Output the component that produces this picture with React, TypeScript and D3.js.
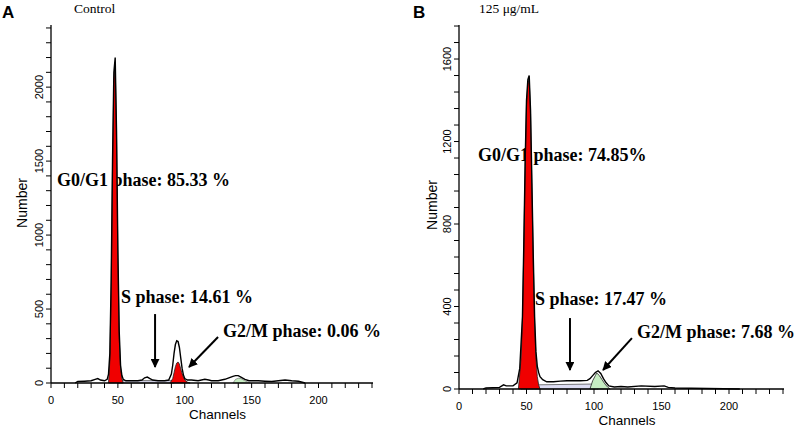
import React from "react";
import * as d3 from "d3";

// ---------- Panel A (Control) ----------
const A_RAW_CH = [18, 20, 25, 30, 33, 35, 37, 40, 42, 43, 44, 45, 46, 47, 48, 49, 50, 51, 52, 53, 54, 56, 60, 65, 68, 70, 72, 74, 76, 80, 85, 88, 90, 91, 92, 93, 94, 95, 96, 97, 98, 99, 100, 102, 105, 110, 115, 118, 120, 125, 130, 133, 136, 138, 140, 142, 145, 148, 150, 155, 160, 165, 170, 175, 180, 185, 190];
const A_RAW_N = [0, 10, 12, 15, 25, 30, 20, 15, 25, 60, 200, 700, 1500, 2100, 2200, 1700, 900, 350, 120, 50, 25, 15, 15, 15, 20, 35, 40, 30, 20, 15, 15, 20, 60, 120, 200, 260, 285, 280, 240, 170, 100, 55, 30, 20, 20, 15, 25, 20, 15, 15, 25, 35, 45, 50, 50, 40, 25, 15, 15, 15, 12, 10, 15, 20, 15, 12, 0];
const A_G1_CH = [43, 44, 45, 46, 47, 48, 49, 50, 51, 52, 53, 54];
const A_G1_N = [0, 150, 650, 1450, 2050, 2150, 1650, 850, 300, 100, 30, 0];
const A_S_CH = [50, 50, 92, 92];
const A_S_N = [0, 16, 16, 0];
const A_G2_CH = [89, 91, 92, 93, 94, 95, 96, 97, 98, 99, 100, 102, 104];
const A_G2_N = [0, 30, 70, 110, 135, 142, 128, 95, 65, 40, 20, 6, 0];
const A_AGG_CH = [136, 138, 140, 142, 145, 149];
const A_AGG_N = [0, 25, 32, 30, 15, 0];
const A_YLABELS = [0, 500, 1000, 1500, 2000];
const A_XLABELS = [0, 50, 100, 150, 200];

// ---------- Panel B (125 µg/mL) ----------
const B_RAW_CH = [18, 20, 30, 33, 35, 40, 43, 45, 47, 48, 49, 50, 51, 52, 53, 54, 55, 56, 57, 58, 59, 60, 62, 65, 70, 75, 80, 85, 90, 95, 97, 99, 101, 103, 105, 107, 109, 111, 115, 120, 125, 135, 145, 152, 155, 160, 208];
const B_RAW_N = [0, 5, 8, 20, 15, 15, 30, 100, 350, 700, 1100, 1400, 1500, 1520, 1350, 1000, 650, 350, 180, 110, 80, 60, 45, 35, 35, 38, 40, 40, 40, 42, 50, 65, 80, 88, 75, 50, 30, 15, 10, 12, 10, 15, 12, 15, 8, 5, 0];
const B_G1_CH = [44, 46, 47, 48, 49, 50, 51, 52, 53, 54, 55, 56, 57, 58, 59, 60];
const B_G1_N = [0, 150, 330, 680, 1080, 1380, 1480, 1500, 1330, 980, 620, 320, 150, 60, 20, 0];
const B_S_CH = [46, 55, 98, 103];
const B_S_N = [0, 20, 24, 0];
const B_G2_CH = [97, 99, 101, 102, 104, 106, 108, 110, 112];
const B_G2_N = [0, 40, 65, 78, 65, 45, 25, 10, 0];
const B_YLABELS = [0, 400, 800, 1200, 1600];
const B_XLABELS = [0, 50, 100, 150, 200];

const SANS = "'Liberation Sans', Arial, sans-serif";
const SERIF = "'Liberation Serif', 'Times New Roman', serif";

type Ann = { text: string; ch: number; n: number };
type Arrow = { ch1: number; n1: number; ch2: number; n2: number };

function Panel(props: {
  id: string;
  letter: string;
  title: string;
  letterX: number;
  titleX: number;
  x0: number;
  x1: number;
  y0: number;
  yTop: number;
  yMax: number;
  yLabels: number[];
  yMinorStep: number;
  xLabels: number[];
  raw: [number[], number[]];
  g1: [number[], number[]];
  s: [number[], number[]];
  g2: [number[], number[]];
  g2Color: string;
  agg?: [number[], number[]];
  anns: Ann[];
  arrows: Arrow[];
  yLabelX: number;
  yTitleX: number;
  yTitleY: number;
}) {
  const p = props;
  const x = d3.scaleLinear().domain([0, 240]).range([p.x0, p.x1]);
  const y = d3.scaleLinear().domain([0, p.yMax]).range([p.y0, p.yTop]);
  const line = d3
    .line<[number, number]>()
    .x((d) => x(d[0]))
    .y((d) => y(d[1]));
  const area = d3
    .area<[number, number]>()
    .x((d) => x(d[0]))
    .y0(y(0))
    .y1((d) => y(d[1]));
  const zip = (a: [number[], number[]]) =>
    a[0].map((c, i) => [c, a[1][i]] as [number, number]);

  const minorY = d3.range(0, p.yMax + 1, p.yMinorStep);
  const minorX = d3.range(0, 241, 10);
  const tickLen = 5;

  return (
    <g>
      <defs>
        <marker
          id={`arr-${p.id}`}
          viewBox="0 0 10 10"
          refX="9"
          refY="5"
          markerWidth="9"
          markerHeight="9"
          markerUnits="userSpaceOnUse"
          orient="auto"
        >
          <path d="M0,0 L10,5 L0,10 z" fill="#000" />
        </marker>
      </defs>
      <text x={p.letterX} y={18} fontFamily={SANS} fontWeight="bold" fontSize={17}>
        {p.letter}
      </text>
      <text x={p.titleX} y={13} fontFamily={SERIF} fontSize={13.5}>
        {p.title}
      </text>

      {/* annotations (drawn under the peaks) */}
      {p.anns.map((a) => (
        <text
          key={a.text}
          x={x(a.ch)}
          y={y(a.n)}
          dominantBaseline="central"
          fontFamily={SERIF}
          fontWeight="bold"
          fontSize={18}
        >
          {a.text}
        </text>
      ))}

      {/* fills */}
      <path d={area(zip(p.s)) || ""} fill="#dcdcf2" stroke="#555" strokeWidth={0.8} />
      {p.agg && <path d={area(zip(p.agg)) || ""} fill="#c6ecc2" stroke="#666" strokeWidth={0.6} />}
      <path d={area(zip(p.g1)) || ""} fill="#f00000" stroke="#222" strokeWidth={0.8} />
      <path d={area(zip(p.g2)) || ""} fill={p.g2Color} stroke="#222" strokeWidth={0.8} />
      <path d={line(zip(p.raw)) || ""} fill="none" stroke="#000" strokeWidth={1.4} />

      {/* axes */}
      <line x1={p.x0} x2={p.x0} y1={p.yTop} y2={p.y0} stroke="#000" strokeWidth={1.3} />
      <line x1={p.x0} x2={p.x1 + 1} y1={p.y0} y2={p.y0} stroke="#000" strokeWidth={1.3} />
      {minorY.map((v) => (
        <line key={"ym" + v} x1={p.x0 - tickLen} x2={p.x0} y1={y(v)} y2={y(v)} stroke="#000" strokeWidth={1} />
      ))}
      {p.yLabels.map((v) => (
        <text
          key={"yl" + v}
          transform={`translate(${p.yLabelX},${y(v)}) rotate(-90)`}
          textAnchor="middle"
          dominantBaseline="central"
          fontFamily={SANS}
          fontSize={11}
        >
          {v}
        </text>
      ))}
      {minorX.map((v) => (
        <line key={"xm" + v} x1={x(v)} x2={x(v)} y1={p.y0} y2={p.y0 + tickLen} stroke="#000" strokeWidth={1} />
      ))}
      {p.xLabels.map((v) => (
        <text
          key={"xl" + v}
          x={x(v)}
          y={p.y0 + 17}
          textAnchor="middle"
          dominantBaseline="central"
          fontFamily={SANS}
          fontSize={11}
        >
          {v}
        </text>
      ))}
      <text
        x={(p.x0 + p.x1) / 2 + 6}
        y={p.y0 + 31}
        textAnchor="middle"
        dominantBaseline="central"
        fontFamily={SANS}
        fontSize={13.5}
      >
        Channels
      </text>
      <text
        transform={`translate(${p.yTitleX},${p.yTitleY}) rotate(-90)`}
        textAnchor="middle"
        dominantBaseline="central"
        fontFamily={SANS}
        fontSize={14}
      >
        Number
      </text>

      {p.arrows.map((a, i) => (
        <line
          key={"ar" + i}
          x1={x(a.ch1)}
          y1={y(a.n1)}
          x2={x(a.ch2)}
          y2={y(a.n2)}
          stroke="#000"
          strokeWidth={2}
          markerEnd={`url(#arr-${p.id})`}
        />
      ))}
    </g>
  );
}

export default function App() {
  return (
    <svg
      width={800}
      height={429}
      style={{ position: "absolute", left: 0, top: 0, background: "#fff" }}
    >
      <rect width={800} height={429} fill="#fff" />
      <Panel
        id="a"
        letter="A"
        title="Control"
        letterX={2}
        titleX={74}
        x0={51}
        x1={372}
        y0={383}
        yTop={25}
        yMax={2420}
        yLabels={A_YLABELS}
        yMinorStep={100}
        xLabels={A_XLABELS}
        raw={[A_RAW_CH, A_RAW_N]}
        g1={[A_G1_CH, A_G1_N]}
        s={[A_S_CH, A_S_N]}
        g2={[A_G2_CH, A_G2_N]}
        g2Color="#f00000"
        agg={[A_AGG_CH, A_AGG_N]}
        anns={[
          { text: "G0/G1 phase: 85.33 %", ch: 4.5, n: 1372 },
          { text: "S phase: 14.61 %", ch: 52.3, n: 581 },
          { text: "G2/M phase: 0.06 %", ch: 128.6, n: 351 },
        ]}
        arrows={[
          { ch1: 77.8, n1: 466, ch2: 77.8, n2: 108 },
          { ch1: 124.9, n1: 311, ch2: 103.2, n2: 108 },
        ]}
        yLabelX={39}
        yTitleX={22}
        yTitleY={203}
      />
      <Panel
        id="b"
        letter="B"
        title="125 μg/mL"
        letterX={413}
        titleX={479}
        x0={459}
        x1={783}
        y0={389}
        yTop={25}
        yMax={1765}
        yLabels={B_YLABELS}
        yMinorStep={80}
        xLabels={B_XLABELS}
        raw={[B_RAW_CH, B_RAW_N]}
        g1={[B_G1_CH, B_G1_N]}
        s={[B_S_CH, B_S_N]}
        g2={[B_G2_CH, B_G2_N]}
        g2Color="#c6ecc2"
        anns={[
          { text: "G0/G1 phase: 74.85%", ch: 14.1, n: 1135 },
          { text: "S phase: 17.47 %", ch: 56.3, n: 436 },
          { text: "G2/M phase: 7.68 %", ch: 131.9, n: 276 },
        ]}
        arrows={[
          { ch1: 82.2, n1: 344, ch2: 82.2, n2: 92 },
          { ch1: 128.1, n1: 247, ch2: 106.7, n2: 92 },
        ]}
        yLabelX={447}
        yTitleX={432}
        yTitleY={205}
      />
    </svg>
  );
}
